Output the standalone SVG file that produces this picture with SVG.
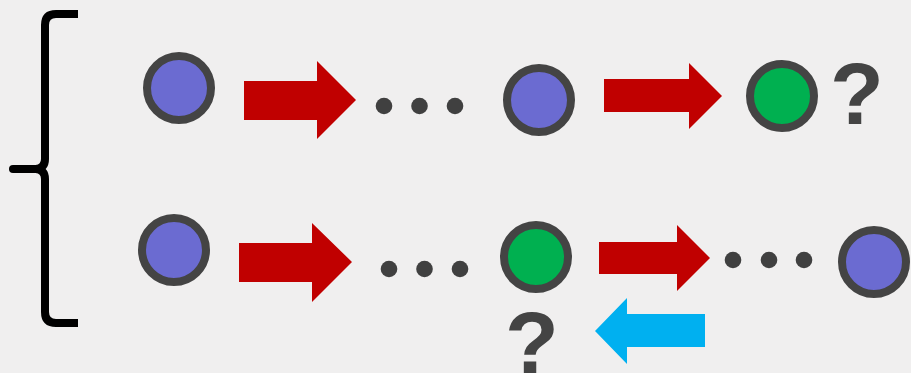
<svg xmlns="http://www.w3.org/2000/svg" width="911" height="373" viewBox="0 0 911 373">
  <style>
    .state { stroke: #444444; stroke-width: 8; }
    .blue { fill: #6b6bd1; }
    .green { fill: #00b050; }
    .dot { fill: #404040; }
    .fwd { fill: #c00000; }
    .back { fill: #00b0f0; }
    .q { font-family: "Liberation Sans", Arial, sans-serif; font-weight: bold; font-size: 88px; fill: #444444; text-anchor: middle; }
    .brace { fill: none; stroke: #000000; stroke-width: 8; stroke-linecap: round; stroke-linejoin: round; }
  </style>
  <rect width="911" height="373" fill="#f0efef"/>

  <!-- curly brace grouping the two sequences -->
  <g id="brace">
    <path class="brace" d="M78,14 H56 Q45,14 45,25 V159 Q45,168 36,169 Q45,170 45,179 V312 Q45,323 56,323 H78" style="stroke-linecap:butt"/>
    <path class="brace" d="M13,169 H38"/>
  </g>

  <!-- top sequence -->
  <g id="a1"><circle class="state blue" cx="179" cy="88" r="32"/></g>
  <g id="a-dots">
    <circle class="dot" cx="384" cy="106" r="8.3"/>
    <circle class="dot" cx="419.5" cy="106" r="8.3"/>
    <circle class="dot" cx="455" cy="106" r="8.3"/>
  </g>
  <g id="a2"><circle class="state blue" cx="539" cy="100" r="32"/></g>
  <g id="a3"><circle class="state green" cx="782" cy="96" r="32"/></g>
  <g id="a-q"><text class="q" x="857" y="124">?</text></g>

  <!-- bottom sequence -->
  <g id="b1"><circle class="state blue" cx="174" cy="250" r="32"/></g>
  <g id="b-dots1">
    <circle class="dot" cx="389" cy="269" r="8.3"/>
    <circle class="dot" cx="424.5" cy="269" r="8.3"/>
    <circle class="dot" cx="460" cy="269" r="8.3"/>
  </g>
  <g id="b2"><circle class="state green" cx="536" cy="257" r="32"/></g>
  <g id="b-dots2">
    <circle class="dot" cx="733" cy="260" r="8.3"/>
    <circle class="dot" cx="769" cy="260" r="8.3"/>
    <circle class="dot" cx="804" cy="260" r="8.3"/>
  </g>
  <g id="b3"><circle class="state blue" cx="874" cy="262" r="32"/></g>
  <g id="b-q"><text class="q" x="532" y="373">?</text></g>

  <!-- block arrows -->
  <g id="connectors">
    <polygon class="fwd" points="244,81 317,81 317,61 356,100 317,139 317,120 244,120"/>
    <polygon class="fwd" points="604,79 689,79 689,63 722,96 689,129 689,112 604,112"/>
    <polygon class="fwd" points="239,243 312,243 312,223 352,262 312,302 312,282 239,282"/>
    <polygon class="fwd" points="599,242 677,242 677,225 710,258 677,291 677,274 599,274"/>
    <polygon class="back" points="705,314 627,314 627,298 595,331 627,364 627,347 705,347"/>
  </g>
</svg>
